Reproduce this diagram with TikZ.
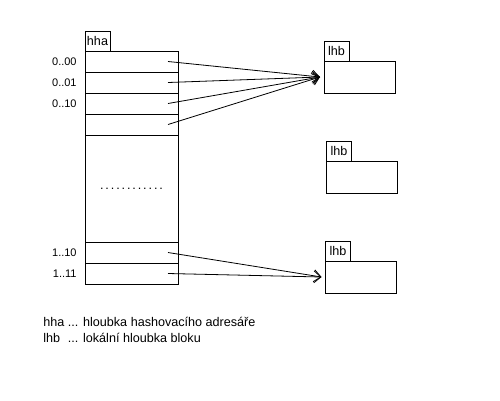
\documentclass[tikz,border=0pt]{standalone}
\usepackage{fontspec}
\setmainfont{Liberation Sans}
\usepackage{tikz}
\usetikzlibrary{positioning}
\usetikzlibrary{arrows.meta}

\begin{document}
\begin{tikzpicture}[x=1pt, y=-1pt, line width=0.8pt, font=\fontsize{12.6}{14}\selectfont, cell/.style ={draw, minimum width=93pt, minimum height=21pt, inner sep=0pt, outer sep=0pt}, blok/.style={draw, minimum width=71pt, minimum height=32pt, inner sep=0pt, outer sep=0pt}, tag/.style={draw, minimum width=25pt, minimum height=20pt, inner sep=0pt, outer sep=0pt}, rowlbl/.style={font=\fontsize{11}{12}\selectfont, inner sep=0pt, label distance=8pt}, ptr/.style={-{Straight Barb[length=7pt, width=12pt]}}]
	\useasboundingbox (0,0) rectangle (500,400);
	\node[cell, label = {[rowlbl]left:0..00}] (r1) at (131.5,61.5) {};
	\node[cell, label = {[rowlbl]left:0..01}] (r2) [below = 0pt of r1] {};
	\node[cell, label = {[rowlbl]left:0..10}] (r3) [below = 0pt of r2] {};
	\node[cell] (r4) [below = 0pt of r3] {};
	\node[cell, minimum height=107pt] (r5) [below = 0pt of r4] {\addfontfeature{LetterSpace=15}............};
	\node[cell, label = {[rowlbl]left:1..10}] (r6) [below = 0pt of r5] {};
	\node[cell, label = {[rowlbl]left:1..11}] (r7) [below = 0pt of r6] {};
	\node[tag] (hha) [above right = 0pt and 0pt of r1.north west] {hha};
	\node[blok] (b1) at (359.5,77) {};
	\node[blok] (b2) at (362,177) {};
	\node[blok] (b3) at (361,277) {};
	\node[tag] (t1) [above right = 0pt and 0pt of b1.north west] {lhb};
	\node[tag] (t2) [above right = 0pt and 0pt of b2.north west] {lhb};
	\node[tag] (t3) [above right = 0pt and 0pt of b3.north west] {lhb};
	\draw[ptr] ([xshift=-10pt]r1.east) -- ([xshift=-4pt]b1.west);
	\draw[ptr] ([xshift=-10pt]r2.east) -- ([xshift=-4pt]b1.west);
	\draw[ptr] ([xshift=-10pt]r3.east) -- ([xshift=-4pt]b1.west);
	\draw[ptr] ([xshift=-10pt]r4.east) -- ([xshift=-4pt]b1.west);
	\draw[ptr] ([xshift=-10pt]r6.east) -- ([xshift=-4pt]b3.west);
	\draw[ptr] ([xshift=-10pt]r7.east) -- ([xshift=-4pt]b3.west);
	\node[anchor=west, inner sep=0pt] (leg1) at (43,322) {\makebox[1.95em][l]{hha}... hloubka hashovacího adresáře};
	\node[anchor=west, inner sep=0pt] (leg2) at (43,338) {\makebox[1.95em][l]{lhb}... lokální hloubka bloku};
\end{tikzpicture}
\end{document}
